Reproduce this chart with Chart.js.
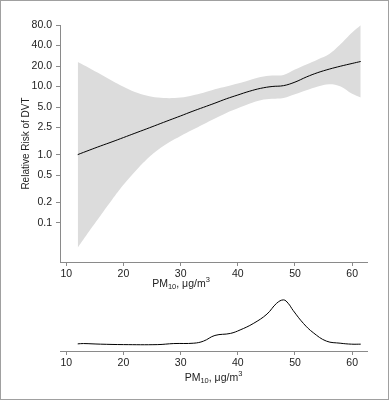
<!DOCTYPE html>
<html>
<head>
<meta charset="utf-8">
<script src="https://cdn.jsdelivr.net/npm/chart.js@4/dist/chart.umd.min.js"></script>
<style>
  html, body { margin: 0; padding: 0; background: #fff; }
  #frame { position: relative; width: 389px; height: 400px; box-sizing: border-box; border: 1px solid #a0a0a0; overflow: hidden; }
  #top { position: absolute; left: -1px; top: -1px; }
  #bot { position: absolute; left: -1px; top: 289px; }
</style>
</head>
<body>
<div id="frame">
  <canvas id="top" width="389" height="290"></canvas>
  <canvas id="bot" width="389" height="110"></canvas>
</div>
<script>
// ---- data ----
const pm10 = [12,14,16,18,20,22,24,26,28,30,32,34,36,38,40,42,44,46,48,50,52,54,56,58,60,61.5];
const rrEstimate = [1.0,1.16,1.34,1.54,1.78,2.06,2.38,2.76,3.2,3.7,4.3,4.95,5.7,6.6,7.5,8.5,9.4,10.0,10.3,11.6,13.8,16,18,19.9,21.8,23.3];
const rrUpper = [22.9,18.7,15.1,12.1,9.9,8.3,7.4,6.9,6.75,6.9,7.4,8.1,9.1,10.0,11.1,12.4,13.8,14.5,14.8,17.7,21,25,30,42,62,79];
const rrLower = [0.043,0.075,0.128,0.217,0.36,0.56,0.84,1.17,1.52,1.88,2.3,2.8,3.4,4.1,4.8,5.6,6.3,6.6,6.8,7.7,8.8,10.0,10.8,10.0,7.8,6.9];
const yTickValues = [0.1,0.2,0.5,1,2.5,5,10,20,40,80];
const xTickValues = [10,20,30,40,50,60];
const densityX = [12,13,16,20,26,28.8,32.3,34,36,38.7,40.4,42.7,45.1,46.8,48,48.8,49.7,51.5,53.2,55.5,57.9,59.9,61.5];
const densityY = [0.0117,0.0122,0.0112,0.0105,0.0105,0.0122,0.0128,0.0162,0.0255,0.0288,0.0345,0.045,0.0605,0.0783,0.0838,0.0783,0.0662,0.045,0.03,0.0162,0.0128,0.0112,0.0112];
const xTitleMain = ['PM', '10', ', \u03bcg/m', '3'];
const yTitle = 'Relative Risk of DVT';

const FONT = "'Liberation Sans Narrow', 'Arial Narrow', 'Liberation Sans', sans-serif";
const AXIS_COLOR = '#8a8a8a';
const TEXT_COLOR = '#222';

function pts(xs, ys) { return xs.map((x, i) => ({ x: x, y: ys[i] })); }

function subTitlePlugin(cx, cy) {
  return {
    id: 'pmTitle',
    afterDraw(chart) {
      const ctx = chart.ctx;
      const big = '10.5px ' + FONT, small = '7.5px ' + FONT;
      const parts = [[xTitleMain[0], big, 0], [xTitleMain[1], small, 3], [xTitleMain[2], big, 0], [xTitleMain[3], small, -4]];
      ctx.save();
      let w = 0;
      parts.forEach(p => { ctx.font = p[1]; w += ctx.measureText(p[0]).width; });
      const xc = typeof cx === 'function' ? cx(chart) : cx;
      let x = xc - w / 2;
      ctx.fillStyle = TEXT_COLOR;
      ctx.textBaseline = 'middle';
      ctx.textAlign = 'left';
      parts.forEach(p => { ctx.font = p[1]; ctx.fillText(p[0], x, cy + p[2]); x += ctx.measureText(p[0]).width; });
      ctx.restore();
    }
  };
}

function xScale(height) {
  return {
    type: 'linear', min: 8.9, max: 62.6,
    afterBuildTicks(s) { s.ticks = xTickValues.map(v => ({ value: v })); },
    afterFit(s) { s.height = height; },
    grid: { drawOnChartArea: false, drawTicks: true, tickLength: 4, color: AXIS_COLOR },
    border: { display: true, color: AXIS_COLOR, width: 1 },
    ticks: { color: TEXT_COLOR, font: { family: FONT, size: 10.5 }, padding: 2, maxRotation: 0 }
  };
}

new Chart(document.getElementById('top'), {
  type: 'line',
  data: {
    datasets: [
      { label: 'RR', data: pts(pm10, rrEstimate), borderWidth: 1, borderColor: '#000', pointRadius: 0, fill: false, tension: 0.4, order: 0 },
      { label: 'upper', data: pts(pm10, rrUpper), borderWidth: 0, borderColor: 'rgba(0,0,0,0)', pointRadius: 0, fill: '+1', backgroundColor: '#dcdcdc', tension: 0.4, order: 1 },
      { label: 'lower', data: pts(pm10, rrLower), borderWidth: 0, borderColor: 'rgba(0,0,0,0)', pointRadius: 0, fill: false, tension: 0.4, order: 2 }
    ]
  },
  options: {
    responsive: false, animation: false, events: [],
    layout: { padding: { left: 0, right: 22, top: 25, bottom: 0 } },
    plugins: { legend: { display: false }, tooltip: { enabled: false } },
    scales: {
      x: xScale(28),
      y: {
        type: 'logarithmic', min: 0.0265, max: 80,
        afterBuildTicks(s) { s.ticks = yTickValues.map(v => ({ value: v })); },
        afterFit(s) { s.width = 60; },
        grid: { drawOnChartArea: false, drawTicks: true, tickLength: 4, color: AXIS_COLOR },
        border: { display: true, color: AXIS_COLOR, width: 1 },
        ticks: { color: TEXT_COLOR, font: { family: FONT, size: 10.5 }, padding: 4, callback: v => Number(v).toFixed(1) },
        title: { display: true, text: yTitle, color: TEXT_COLOR, font: { family: FONT, size: 10 }, padding: { top: 20, bottom: 0 } }
      }
    }
  },
  plugins: [subTitlePlugin(181, 284)]
});

new Chart(document.getElementById('bot'), {
  type: 'line',
  data: {
    datasets: [
      { label: 'density', data: pts(densityX, densityY), borderWidth: 1, borderColor: '#000', pointRadius: 0, fill: false, tension: 0.4 }
    ]
  },
  options: {
    responsive: false, animation: false, events: [],
    layout: { padding: { left: 60, right: 22, top: 0, bottom: 0 } },
    plugins: { legend: { display: false }, tooltip: { enabled: false } },
    scales: {
      x: xScale(49),
      y: { display: false, min: 0, max: 0.1 }
    }
  },
  plugins: [subTitlePlugin(c => (c.chartArea.left + c.chartArea.right) / 2, 88)]
});
</script>
</body>
</html>
